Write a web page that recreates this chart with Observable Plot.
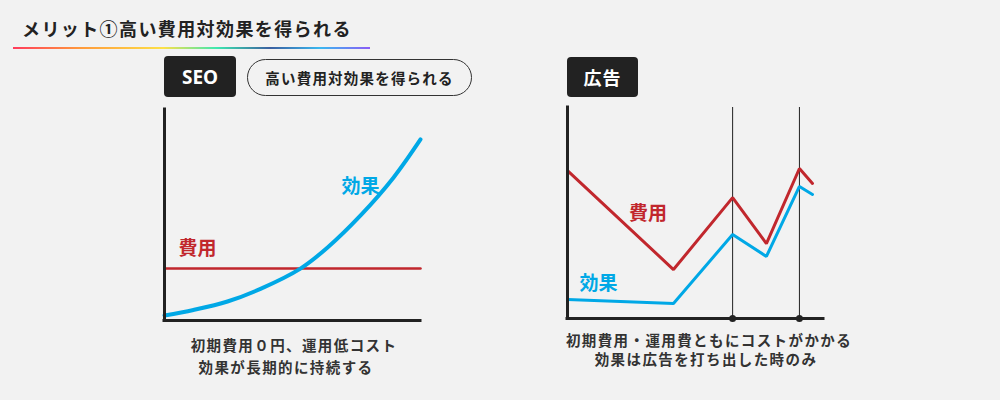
<!DOCTYPE html>
<html lang="ja">
<head>
<meta charset="utf-8">
<script src="https://cdn.jsdelivr.net/npm/d3@7"></script>
<script src="https://cdn.jsdelivr.net/npm/@observablehq/plot@0.6"></script>
<style>
  html, body { margin: 0; padding: 0; }
  body { width: 1000px; height: 400px; background: #f2f2f2; position: relative; overflow: hidden;
         font-family: "Noto Sans CJK JP", "Noto Sans", sans-serif; color: #222; }
  .abs { position: absolute; }
  #title { left: 22px; top: 14px; font-size: 18px; font-weight: 700; letter-spacing: 1.4px; line-height: 28px; white-space: nowrap; }
  #underline { left: 13px; top: 47px; width: 357px; height: 2px;
    background: linear-gradient(90deg, #ff3b5c 0%, #ff9a3c 19%, #fde047 42%, #3ee8b0 57%, #3a5fa0 72%, #3ab8f0 86%, #8b5cf6 100%); }
  .tag { background: #222; color: #fff; border-radius: 4px; font-weight: 700; font-size: 18px;
         display: flex; align-items: center; justify-content: center; }
  #seo { left: 164px; top: 56px; width: 72px; height: 41px; font-family: "Noto Sans", Roboto, sans-serif; font-size: 19px; }
  #ad { left: 567px; top: 57px; width: 71px; height: 40px; letter-spacing: 1px; }
  #pill { left: 247px; top: 59px; width: 223px; height: 35px; border: 1.5px solid #333; border-radius: 20px;
          display: flex; align-items: center; justify-content: center; font-weight: 700; font-size: 14.5px; letter-spacing: 1.2px; }
  .cap { transform: translateX(-50%); white-space: nowrap; font-weight: 700; font-size: 14.5px; letter-spacing: 1.4px; color: #333; line-height: 20px; }
  .chart { position: absolute; }
</style>
</head>
<body>
<div id="title" class="abs">メリット①高い費用対効果を得られる</div>
<div id="underline" class="abs"></div>
<div id="seo" class="abs tag">SEO</div>
<div id="pill" class="abs">高い費用対効果を得られる</div>
<div id="ad" class="abs tag">広告</div>
<div id="leftChart" class="chart" style="left:134px; top:95px;"></div>
<div id="rightChart" class="chart" style="left:537px; top:95px;"></div>
<div class="abs cap" style="left:294px; top:335px;">初期費用０円、運用低コスト</div>
<div class="abs cap" style="left:286px; top:357px;">効果が長期的に持続する</div>
<div class="abs cap" style="left:709px; top:330px;">初期費用・運用費ともにコストがかかる</div>
<div class="abs cap" style="left:706px; top:349px;">効果は広告を打ち出した時のみ</div>
<script>
// ---- Data (arbitrary 0-10 units) ----
const RED = "#c1272d";
const BLUE = "#00a8e6";

// SEO chart
const seoX = [0, 1.13, 2.46, 3.75, 5.31, 6.37, 7.66, 8.95, 10];
const seoEffect = [0.24, 0.5, 0.9, 1.5, 2.46, 3.46, 4.98, 6.78, 8.58];
const seoCostX = [0, 10];
const seoCost = [2.46, 2.46];
const seoLabels = ["効果", "費用"];
const seoLabelX = [7.66, 1.29];
const seoLabelY = [6.35, 3.41];

// Ad chart
const adX = [0, 4.14, 6.45, 7.77, 9.06, 9.57];
const adCost = [7.01, 2.32, 5.73, 3.55, 7.11, 6.40];
const adEffect = [0.9, 0.71, 3.98, 2.94, 6.26, 5.88];
const adLaunches = [6.45, 9.06];
const adLabels = ["費用", "効果"];
const adLabelX = [3.14, 1.21];
const adLabelY = [4.98, 1.66];

const zip = (xs, ys) => xs.map((x, i) => ({x, y: ys[i]}));
const labelRows = (texts, xs, ys, colors) => texts.map((t, i) => ({text: t, x: xs[i], y: ys[i], c: colors[i]}));

const common = {
  width: 300, height: 240,
  x: {domain: [0, 10], axis: null},
  y: {domain: [0, 10], axis: null},
  style: {background: "transparent", overflow: "visible", fontFamily: "'Noto Sans CJK JP', sans-serif"}
};

const left = Plot.plot({
  ...common,
  marginLeft: 30, marginRight: 14, marginTop: 14, marginBottom: 15,
  marks: [
    Plot.line(zip(seoCostX, seoCost), {x: "x", y: "y", stroke: RED, strokeWidth: 2.5}),
    Plot.line(zip(seoX, seoEffect), {x: "x", y: "y", stroke: BLUE, strokeWidth: 4, curve: "catmull-rom"}),
    Plot.ruleX([0], {stroke: "#222", strokeWidth: 3, strokeLinecap: "square"}),
    Plot.ruleY([0], {stroke: "#222", strokeWidth: 3, strokeLinecap: "square"}),
    Plot.text(labelRows(seoLabels, seoLabelX, seoLabelY, [BLUE, RED]),
      {x: "x", y: "y", text: "text", fill: d => d.c, fontSize: 19, fontWeight: "bold"})
  ]
});
document.getElementById("leftChart").append(left);

const right = Plot.plot({
  ...common,
  marginLeft: 30, marginRight: 14, marginTop: 12, marginBottom: 17,
  marks: [
    Plot.ruleX(adLaunches, {stroke: "#222", strokeWidth: 1}),
    Plot.line(zip(adX, adCost), {x: "x", y: "y", stroke: RED, strokeWidth: 3, strokeLinejoin: "miter"}),
    Plot.line(zip(adX, adEffect), {x: "x", y: "y", stroke: BLUE, strokeWidth: 3, strokeLinejoin: "miter"}),
    Plot.ruleX([0], {stroke: "#222", strokeWidth: 3, strokeLinecap: "square"}),
    Plot.ruleY([0], {stroke: "#222", strokeWidth: 3, strokeLinecap: "square"}),
    Plot.dot(adLaunches, {x: d => d, y: () => 0, r: 3.5, fill: "#222", stroke: null}),
    Plot.text(labelRows(adLabels, adLabelX, adLabelY, [RED, BLUE]),
      {x: "x", y: "y", text: "text", fill: d => d.c, fontSize: 19, fontWeight: "bold"})
  ]
});
document.getElementById("rightChart").append(right);
</script>
</body>
</html>
